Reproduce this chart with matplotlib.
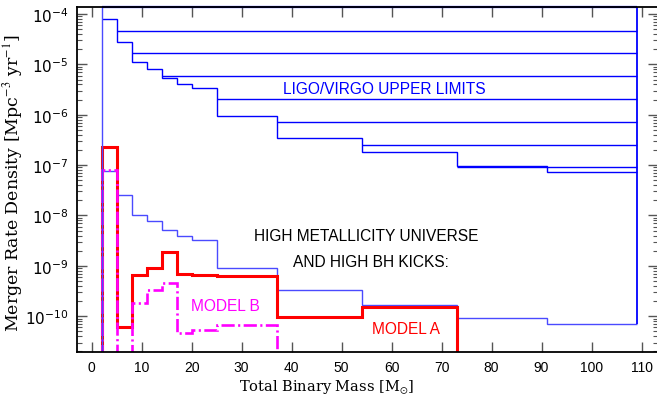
import matplotlib
matplotlib.use("Agg")
import matplotlib.pyplot as plt
from matplotlib.ticker import LogLocator, NullFormatter, FixedLocator
import numpy as np

# ---- data ----
edges = [2, 5, 8, 11, 14, 17, 20, 25, 37, 54, 73, 91, 109]
upper_limit = [7.96e-5, 2.74e-5, 1.10e-5, 7.98e-6, 5.37e-6, 4.03e-6, 3.35e-6,
               9.31e-7, 3.46e-7, 1.80e-7, 9.49e-8, 7.41e-8]
limit_levels = [4.66e-5, 1.66e-5, 5.80e-6, 2.08e-6, 7.08e-7, 2.48e-7, 9.2e-8]
limit_starts = [5, 8, 14, 25, 37, 54, 73]
top_limit = 1.377e-4
high_z_limit = [7.76e-8, 2.59e-8, 1.04e-8, 7.88e-9, 5.23e-9, 3.98e-9, 3.31e-9,
                8.96e-10, 3.32e-10, 1.70e-10, 9.12e-11, 7.03e-11]

edges_a = [2, 5, 8, 11, 14, 17, 20, 25, 37, 54, 73]
model_a = [2.26e-7, 6.2e-11, 6.7e-10, 9.1e-10, 1.86e-9, 6.9e-10, 6.5e-10,
           6.2e-10, 9.8e-11, 1.53e-10]
edges_b = [2, 5, 8, 11, 14, 17, 20, 25, 37]
model_b = [8.13e-8, 1e-12, 1.84e-10, 3.33e-10, 4.58e-10, 4.66e-11, 5.35e-11,
           6.72e-11]

xticks = list(range(0, 111, 10))
xlim = (-2.94, 113.3)
ylim = (1.95e-11, 1.377e-4)

# ---- figure ----
plt.rcParams['mathtext.fontset'] = 'stix'
fig = plt.figure(figsize=(6.57, 4.02), dpi=100)
ax = fig.add_axes([77 / 657, 49 / 402, 581 / 657, 345 / 402])
ax.set_yscale('log')
ax.set_xlim(*xlim)
ax.set_ylim(*ylim)

blue = '#0000ff'
lblue = '#4a4aff'
# upper limits
ax.stairs(upper_limit, edges, baseline=None, color=blue, lw=1.0)
ax.hlines(limit_levels, limit_starts, edges[-1], color=blue, lw=1.0)
ax.hlines(top_limit, edges[0], edges[-1], color=blue, lw=1.6, clip_on=False)
ax.vlines(edges[0], ylim[0], top_limit, color=lblue, lw=1.0)
ax.vlines(edges[-1], high_z_limit[-1], top_limit, color=blue, lw=1.3)
ax.stairs(high_z_limit, edges, baseline=None, color=lblue, lw=1.0)

# models
ax.stairs(model_a, edges_a, baseline=1e-13, color='#ff0000', lw=2.2)
ax.stairs(model_b, edges_b, baseline=1e-13, color='#ff00ff', lw=1.9,
          linestyle=(0, (5, 1.3, 0.8, 1.3)))

# text
sans = 'Liberation Sans'
ax.text(0.529, 0.763, 'LIGO/VIRGO UPPER LIMITS', transform=ax.transAxes,
        color=blue, fontsize=11.2, family=sans, ha='center', va='center')
ax.text(0.498, 0.338, 'HIGH METALLICITY UNIVERSE', transform=ax.transAxes,
        color='black', fontsize=11.2, family=sans, ha='center', va='center')
ax.text(0.506, 0.263, 'AND HIGH BH KICKS:', transform=ax.transAxes,
        color='black', fontsize=11.2, family=sans, ha='center', va='center')
ax.text(0.256, 0.134, 'MODEL B', transform=ax.transAxes,
        color='#ff00ff', fontsize=11.2, family=sans, ha='center', va='center')
ax.text(0.567, 0.067, 'MODEL A', transform=ax.transAxes,
        color='#ff0000', fontsize=11.2, family=sans, ha='center', va='center')

# ticks
ax.xaxis.set_major_locator(FixedLocator(xticks))
ax.set_xticklabels([str(t) for t in xticks], family=sans, fontsize=10)
ax.yaxis.set_major_locator(LogLocator(base=10, numticks=20))
ax.yaxis.set_minor_locator(LogLocator(base=10, subs=np.arange(2, 10), numticks=20))
ax.yaxis.set_minor_formatter(NullFormatter())
ax.tick_params(axis='both', which='major', direction='in', length=7,
               width=1.0, color='#555555', top=True, right=True)
ax.tick_params(axis='y', which='minor', direction='in', length=3.5,
               width=0.8, color='#555555', right=True)
ax.tick_params(axis='x', which='major', pad=6)
ax.tick_params(axis='y', which='major', pad=6, labelsize=11)
for sp in ax.spines.values():
    sp.set_linewidth(1.3)

ax.set_xlabel(r'Total Binary Mass [M$_{\odot}$]', family='DejaVu Serif',
              fontsize=10.5)
ax.xaxis.set_label_coords(0.43, -0.072)
ax.set_ylabel(r'Merger Rate Density [Mpc$^{-3}$ yr$^{-1}$]',
              family='DejaVu Serif', fontsize=12.5)
ax.yaxis.set_label_coords(-0.089, 0.491)

fig.savefig('out.png', dpi=100)
